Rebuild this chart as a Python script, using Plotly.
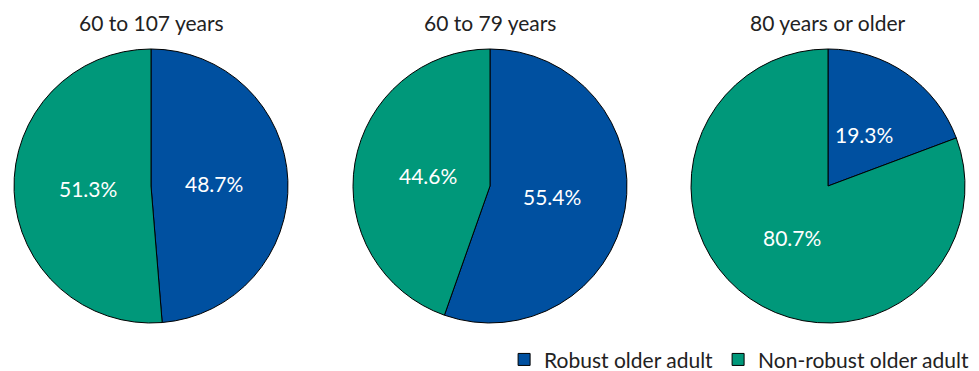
import math
import plotly.graph_objects as go

titles = ["60 to 107 years", "60 to 79 years", "80 years or older"]
labels = ["Robust older adult", "Non-robust older adult"]
robust = [48.7, 55.4, 19.3]
nonrobust = [51.3, 44.6, 80.7]
colors = ["#0050A0", "#00987A"]

W, H = 979, 371
centers_x = [151, 490, 828]
cy = 186
R = 137
FONT = "Lato"

fig = go.Figure()
for i, t in enumerate(titles):
    cx = centers_x[i]
    vals = [robust[i], nonrobust[i]]
    fig.add_trace(go.Pie(
        labels=labels,
        values=vals,
        sort=False,
        direction="clockwise",
        rotation=0,
        marker=dict(colors=colors, line=dict(color="black", width=1)),
        textinfo="none",
        hoverinfo="skip",
        showlegend=(i == 0),
        domain=dict(x=[(cx - R) / W, (cx + R) / W], y=[1 - (cy + R) / H, 1 - (cy - R) / H]),
    ))
    fig.add_annotation(text=t, x=cx / W, y=1 - 22 / H, xref="paper", yref="paper",
                       showarrow=False, xanchor="center", yanchor="middle",
                       font=dict(size=21, color="#222", family=FONT))
    total = sum(vals)
    start = 0.0
    for v in vals:
        frac = v / total
        mid = (start + frac / 2) * 2 * math.pi
        start += frac
        r = 0.46 * R
        px = cx + r * math.sin(mid)
        py = cy - r * math.cos(mid)
        fig.add_annotation(text=f"{v:.1f}%", x=px / W, y=1 - py / H, xref="paper", yref="paper",
                           showarrow=False, xanchor="center", yanchor="middle",
                           font=dict(size=21, color="white", family=FONT))

fig.update_layout(
    width=W, height=H,
    margin=dict(l=0, r=0, t=0, b=0, autoexpand=False),
    paper_bgcolor="white",
    plot_bgcolor="white",
    font=dict(family=FONT, size=21, color="#222"),
    legend=dict(orientation="h", x=0.995, xanchor="right", y=-0.025, yanchor="bottom",
                font=dict(size=21, family=FONT), itemwidth=30),
)
fig.write_html("out.html")
